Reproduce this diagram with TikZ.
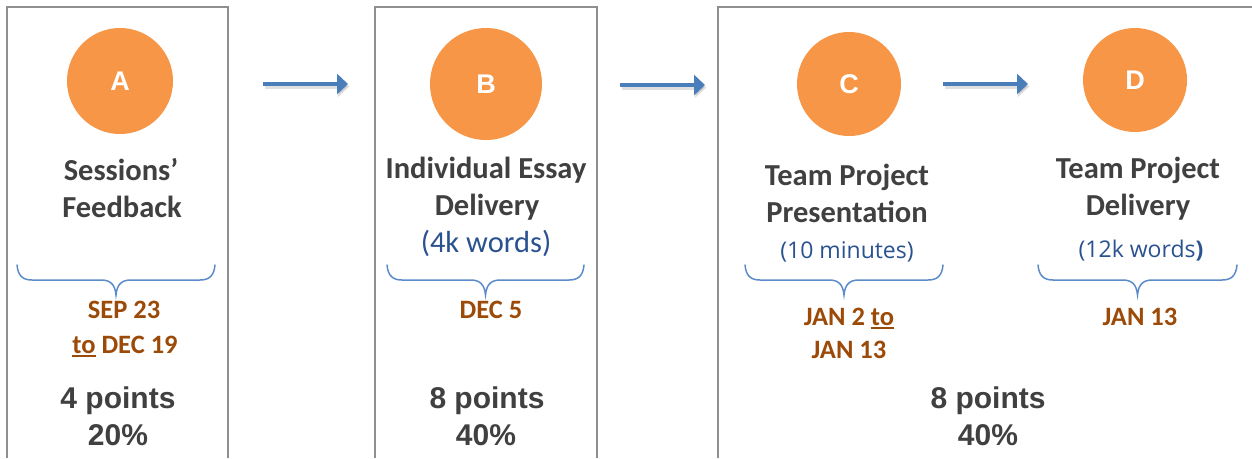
\documentclass[tikz,border=0pt]{standalone}
\usepackage{fontspec}
\setmainfont{Carlito}
\newfontfamily\arialfont{Liberation Sans}
\newfontfamily\opensans{Open Sans}
\usetikzlibrary{arrows.meta}

\definecolor{circorange}{HTML}{F79646}
\definecolor{arrowblue}{HTML}{4A7EBB}
\definecolor{braceblue}{HTML}{5B8BC9}
\definecolor{titlegray}{HTML}{404040}
\definecolor{subblue}{HTML}{2A5290}
\definecolor{datebrown}{HTML}{9C4A08}
\definecolor{framegray}{HTML}{8F8F8F}

% underline with a thicker rule, as in the date labels
\newcommand\undertext[1]{\setbox0\hbox{#1}\rlap{\rule[-3.5pt]{\wd0}{2pt}}\box0\relax}

\tikzset{
  x=1pt, y=1pt,
  frame/.style={draw=framegray, line width=1.3pt},
  stage/.style={circle, fill=circorange, inner sep=0, text=white,
    font=\arialfont\bfseries\fontsize{27}{30}\selectfont},
  title/.style={anchor=base, inner sep=0, text=titlegray,
    font=\bfseries\fontsize{30.5}{36}\selectfont},
  sub/.style={anchor=base, inner sep=0, text=subblue,
    font=\fontsize{30.5}{36}\selectfont},
  subsmall/.style={anchor=base, inner sep=0, text=subblue,
    font=\opensans\fontsize{23}{27}\selectfont},
  date/.style={anchor=base, inner sep=0, text=datebrown,
    font=\bfseries\fontsize{26.5}{32}\selectfont},
  points/.style={anchor=base, inner sep=0, text=titlegray,
    font=\arialfont\bfseries\fontsize{30}{36}\selectfont},
  flow/.style={draw=arrowblue, line width=4pt,
    -{Triangle[length=11pt,width=20pt]}},
  flowshadow/.style={draw=black, opacity=0.12, line width=5pt,
    -{Triangle[length=12pt,width=21pt]}},
  bracestyle/.style={draw=braceblue, line width=1.5pt, line cap=round},
  pics/curly/.style={code={
    \draw[bracestyle] (-#1,0)
      .. controls (-#1+1,-11) and (-#1+6,-15) .. (-#1+15,-15)
      -- (-15,-15)
      .. controls (-6,-15) and (-1,-19) .. (0,-30)
      .. controls (1,-19) and (6,-15) .. (15,-15)
      -- (#1-15,-15)
      .. controls (#1-6,-15) and (#1-1,-11) .. (#1,0);
  }}
}

\begin{document}
\begin{tikzpicture}
\useasboundingbox (0,0) rectangle (1252,-458);
\fill[white] (0,0) rectangle (1252,-458);

% panel frames, open at the bottom
\draw[frame] (7,-458) |- (228,-7) -- (228,-458);
\draw[frame] (375,-458) |- (597,-7) -- (597,-458);
\draw[frame] (718,-458) |- (1253,-7);

% stage circles
\node[stage, minimum size=106] (A) at (120,-81) {A};
\node[stage, minimum size=112] (B) at (486,-84) {B};
\node[stage, minimum size=104] (C) at (849,-84) {C};
\node[stage, minimum size=104] (D) at (1135,-80) {D};

% arrows between stages
\coordinate (a1s) at (263,-84);  \coordinate (a1e) at (348,-84);
\coordinate (a2s) at (620,-85);  \coordinate (a2e) at (705,-85);
\coordinate (a3s) at (943,-84);  \coordinate (a3e) at (1028,-84);
\foreach \s/\e in {a1s/a1e, a2s/a2e, a3s/a3e}{
  \draw[flowshadow, transform canvas={shift={(1.5,-2.5)}}] (\s) -- (\e);
  \draw[flow] (\s) -- (\e);
}

% panel A
\node[title] (tA1) at (121,-180) {Sessions’};
\node[title] (tA2) at (122,-217) {Feedback};
\pic at (116,-265) {curly=99};
\node[date] (dA1) at (124,-318) {SEP 23};
\node[date] (dA2) at (125,-353) {\undertext{to} DEC 19};
\node[points] (pA1) at (118,-408) {4 points};
\node[points] (pA2) at (118,-445) {20\%};

% panel B
\node[title] (tB1) at (486,-178) {Individual Essay};
\node[title] (tB2) at (487,-215) {Delivery};
\node[sub] (sB) at (486,-252) {(4k words)};
\pic at (485.5,-265) {curly=98.5};
\node[date] (dB) at (491,-318) {DEC 5};
\node[points] (pB1) at (487,-408) {8 points};
\node[points] (pB2) at (486,-445) {40\%};

% panel C and D
\node[title] (tC1) at (847,-185) {Team Project};
\node[title] (tC2) at (847,-222) {Presentation};
\node[subsmall] (sC) at (847,-258) {(10 minutes)};
\pic at (844,-265) {curly=99};
\node[date] (dC1) at (849,-325) {JAN 2 \undertext{to}};
\node[date] (dC2) at (849,-358) {JAN 13};

\node[title] (tD1) at (1138,-178) {Team Project};
\node[title] (tD2) at (1138,-215) {Delivery};
\node[subsmall] (sD) at (1141,-257) {(12k words\textbf{)}};
\pic at (1137.5,-265) {curly=99.5};
\node[date] (dD) at (1140,-325) {JAN 13};

\node[points] (pC1) at (988,-408) {8 points};
\node[points] (pC2) at (988,-445) {40\%};
\end{tikzpicture}
\end{document}
